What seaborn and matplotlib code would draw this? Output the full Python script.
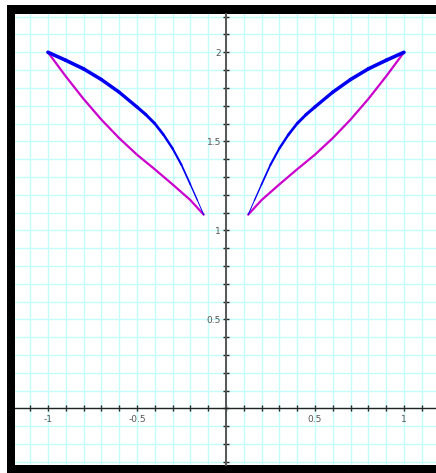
import numpy as np
import pandas as pd
import matplotlib
matplotlib.use('Agg')
import matplotlib.pyplot as plt
from matplotlib.collections import LineCollection
from matplotlib.ticker import MultipleLocator, FuncFormatter
from matplotlib.patches import Rectangle
import seaborn as sns

# left wing (blue upper edge, magenta lower edge)
blue_left_x = [-1.0, -0.9, -0.8, -0.7, -0.6, -0.5, -0.45, -0.4, -0.35, -0.3, -0.25, -0.2, -0.16, -0.125]
blue_left_y = [2.0, 1.955, 1.907, 1.847, 1.776, 1.693, 1.650, 1.600, 1.536, 1.460, 1.368, 1.258, 1.168, 1.088]
mag_left_x = [-1.0, -0.9, -0.8, -0.7, -0.6, -0.5, -0.4, -0.3, -0.2, -0.125]
mag_left_y = [2.0, 1.865, 1.738, 1.622, 1.518, 1.425, 1.343, 1.258, 1.170, 1.088]

# right wing
blue_right_x = [1.0, 0.9, 0.8, 0.7, 0.6, 0.5, 0.45, 0.4, 0.35, 0.3, 0.25, 0.2, 0.16, 0.125]
blue_right_y = [2.0, 1.955, 1.907, 1.847, 1.776, 1.693, 1.650, 1.600, 1.536, 1.460, 1.368, 1.258, 1.168, 1.088]
mag_right_x = [1.0, 0.9, 0.8, 0.7, 0.6, 0.5, 0.4, 0.3, 0.2, 0.125]
mag_right_y = [2.0, 1.865, 1.738, 1.622, 1.518, 1.425, 1.343, 1.258, 1.170, 1.088]

x_labels = [-1, -0.5, 0.5, 1]
y_labels = [0.5, 1, 1.5, 2]

sns.set_style('white')
plt.rcParams['font.family'] = ['DejaVu Sans']

W, H = 436, 473
fig = plt.figure(figsize=(W / 100, H / 100), dpi=100)
fig.patch.set_facecolor('white')

# thick black frame behind the plot area
fig.patches.append(Rectangle((7 / W, 0), 1, (H - 5) / H, transform=fig.transFigure,
                             facecolor='black', edgecolor='none', zorder=-5))

ax = fig.add_axes([15 / W, 8 / H, (W - 15) / W, (465 - 14) / H])
ax.set_zorder(1)
ax.set_facecolor('white')
ax.set_xlim(-1.185, 1.18)
ax.set_ylim(-0.318, 2.215)

ax.xaxis.set_major_locator(MultipleLocator(0.1))
ax.yaxis.set_major_locator(MultipleLocator(0.1))
ax.grid(True, color='#c4fbfb', lw=1.0)
ax.set_axisbelow(True)

for s in ['top', 'right']:
    ax.spines[s].set_visible(False)
ax.spines['left'].set_position(('data', 0))
ax.spines['bottom'].set_position(('data', 0))
ax.spines['left'].set_color('#555555')
ax.spines['left'].set_linewidth(1.4)
ax.spines['bottom'].set_color('#222222')
ax.spines['bottom'].set_linewidth(1.0)


def fmt_x(v, pos):
    for lab in x_labels:
        if abs(v - lab) < 1e-6:
            return f'{lab:g}'
    return ''


def fmt_y(v, pos):
    for lab in y_labels:
        if abs(v - lab) < 1e-6:
            return f'{lab:g}'
    return ''


ax.xaxis.set_major_formatter(FuncFormatter(fmt_x))
ax.yaxis.set_major_formatter(FuncFormatter(fmt_y))
ax.tick_params(axis='both', which='major', bottom=True, left=True, direction='inout',
               length=5, width=1, color='#222222', labelsize=6.5, labelcolor='#555555')
ax.tick_params(axis='x', pad=2)
ax.tick_params(axis='y', pad=1)

# magenta lower edges
mag = pd.concat([
    pd.DataFrame({'x': mag_left_x, 'y': mag_left_y, 'side': 'left'}),
    pd.DataFrame({'x': mag_right_x, 'y': mag_right_y, 'side': 'right'}),
])
sns.lineplot(data=mag, x='x', y='y', units='side', estimator=None, sort=False,
             color='#cc00cc', lw=1.6, ax=ax, zorder=3)

# blue upper edges, stroke thins towards the inner tip
for bx, by in [(blue_left_x, blue_left_y), (blue_right_x, blue_right_y)]:
    pts = np.column_stack([bx, by])
    segs = np.stack([pts[:-1], pts[1:]], axis=1)
    t = np.linspace(0, 1, len(segs))
    widths = 0.7 + 1.9 * (1 - t ** 2)
    lc = LineCollection(segs, linewidths=widths, colors='#0000f0',
                        capstyle='round', joinstyle='round', zorder=4)
    ax.add_collection(lc)

ax.set_xlabel('')
ax.set_ylabel('')

fig.savefig('out.png', dpi=100)
